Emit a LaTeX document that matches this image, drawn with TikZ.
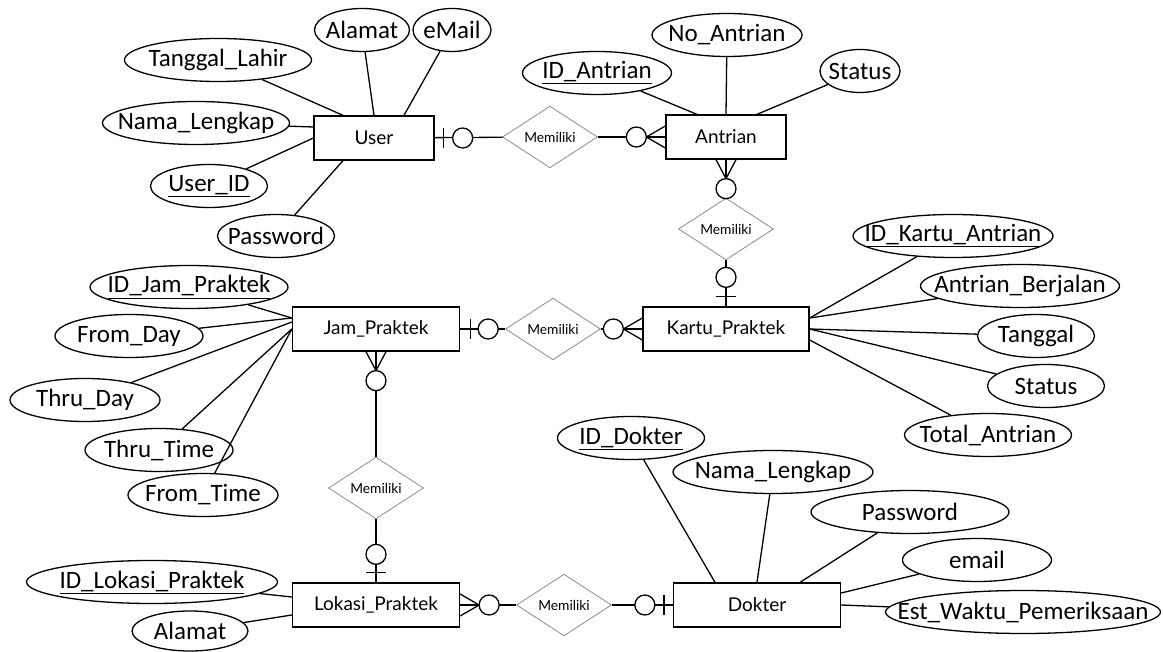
\documentclass[tikz,border=0pt]{standalone}
\usepackage{fontspec}
\setmainfont{Carlito}
\newfontfamily\latofont{Lato}
\usepackage{tikz}
\usetikzlibrary{shapes.geometric}

\begin{document}
\begin{tikzpicture}[x=1pt, y=-1pt,
  ent/.style={draw, line width=1.3pt, minimum height=44pt, inner sep=0pt,
              font=\latofont\fontsize{19}{21}\selectfont},
  attr/.style={draw, ellipse, line width=1.3pt, minimum height=43pt,
               inner xsep=-150pt, inner ysep=-40pt,
               font=\fontsize{25}{27}\selectfont},
  rel/.style={draw=black!45, diamond, line width=0.8pt, minimum width=95pt,
              minimum height=57pt, inner sep=0pt,
              font=\latofont\fontsize{13.8}{16}\selectfont},
  conn/.style={line width=1.3pt},
  ring/.style={line width=1.3pt, fill=white}]
  \useasboundingbox (0,0) rectangle (1163,652);

  % entities
  \node[ent, minimum width=120pt] (user)    at (374,138) {User};
  \node[ent, minimum width=120pt] (antrian) at (726,137) {Antrian};
  \node[ent, minimum width=166pt] (kartu)   at (726,329) {Kartu\_Praktek};
  \node[ent, minimum width=167pt] (jam)     at (376,329) {Jam\_Praktek};
  \node[ent, minimum width=167pt] (lokasi)  at (376,605) {Lokasi\_Praktek};
  \node[ent, minimum width=167pt] (dokter)  at (757,605) {Dokter};

  % relations
  \node[rel] (r1) at (550,137) {Memiliki};
  \node[rel] (r2) at (726,229) {Memiliki};
  \node[rel] (r3) at (553,329) {Memiliki};
  \node[rel] (r4) at (376,488) {Memiliki};
  \node[rel] (r5) at (564,605) {Memiliki};

  % attributes of User
  \node[attr, minimum width=95pt]  (u_alamat) at (362,30)  {Alamat};
  \node[attr, minimum width=78pt]  (u_email)  at (452,30)  {eMail};
  \node[attr, minimum width=187pt] (u_tgl)    at (218,60)  {Tanggal\_Lahir};
  \node[attr, minimum width=187pt] (u_nama)   at (196,123) {Nama\_Lengkap};
  \node[attr, minimum width=117pt] (u_id)     at (209,186) {\underline{User\_ID}};
  \node[attr, minimum width=117pt] (u_pass)   at (276,236) {Password};
  \draw[conn] (u_tgl)    -- ([xshift=-31pt]user.north);
  \draw[conn] (u_alamat) -- (user.north);
  \draw[conn] (u_email)  -- ([xshift=30pt]user.north);
  \draw[conn] (u_nama)   -- ([yshift=11pt]user.west);
  \draw[conn] (u_id)     -- (user.west);
  \draw[conn] (u_pass)   -- ([xshift=-31pt]user.south);

  % attributes of Antrian
  \node[attr, minimum width=149pt] (a_id)     at (597,73) {\underline{ID\_Antrian}};
  \node[attr, minimum width=150pt] (a_no)     at (727,35) {No\_Antrian};
  \node[attr, minimum width=80pt]  (a_status) at (860,71) {Status};
  \draw[conn] (a_id)     -- ([xshift=-29pt]antrian.north);
  \draw[conn] (a_no)     -- (antrian.north);
  \draw[conn] (a_status) -- ([xshift=31pt]antrian.north);

  % attributes of Kartu_Praktek
  \node[attr, minimum width=200pt] (k_id)     at (953,236)  {\underline{ID\_Kartu\_Antrian}};
  \node[attr, minimum width=199pt] (k_jalan)  at (1020,286) {Antrian\_Berjalan};
  \node[attr, minimum width=117pt] (k_tgl)    at (1036,336) {Tanggal};
  \node[attr, minimum width=117pt] (k_status) at (1046,386) {Status};
  \node[attr, minimum width=167pt] (k_total)  at (988,435)  {Total\_Antrian};
  \draw[conn] (k_id)     -- ([yshift=11pt]kartu.east);
  \draw[conn] (k_jalan)  -- ([yshift=11pt]kartu.east);
  \draw[conn] (k_tgl)    -- (kartu.east);
  \draw[conn] (k_status) -- (kartu.east);
  \draw[conn] (k_total)  -- ([yshift=-11pt]kartu.east);

  % attributes of Jam_Praktek
  \node[attr, minimum width=198pt] (j_id)    at (189,287) {\underline{ID\_Jam\_Praktek}};
  \node[attr, minimum width=148pt] (j_fday)  at (129,336) {From\_Day};
  \node[attr, minimum width=150pt] (j_tday)  at (85,400)  {Thru\_Day};
  \node[attr, minimum width=148pt] (j_ttime) at (159,450) {Thru\_Time};
  \node[attr, minimum width=150pt] (j_ftime) at (203,495) {From\_Time};
  \draw[conn] (j_id)    -- ([yshift=11pt]jam.west);
  \draw[conn] (j_fday)  -- ([yshift=11pt]jam.west);
  \draw[conn] (j_tday)  -- ([yshift=7pt]jam.west);
  \draw[conn] (j_ttime) -- (jam.west);
  \draw[conn] (j_ftime) -- (jam.west);

  % attributes of Lokasi_Praktek
  \node[attr, minimum width=251pt] (l_id)     at (152,582) {\underline{ID\_Lokasi\_Praktek}};
  \node[attr, minimum width=116pt, minimum height=40pt] (l_alamat) at (190,631) {Alamat};
  \draw[conn] (l_id)     -- ([yshift=8pt]lokasi.west);
  \draw[conn] (l_alamat) -- ([yshift=-10pt]lokasi.west);

  % attributes of Dokter
  \node[attr, minimum width=147pt] (d_id)    at (631,438)  {\underline{ID\_Dokter}};
  \node[attr, minimum width=200pt] (d_nama)  at (773,472)  {Nama\_Lengkap};
  \node[attr, minimum width=198pt] (d_pass)  at (910,512)  {Password};
  \node[attr, minimum width=149pt] (d_email) at (977,560)  {email};
  \node[attr, minimum width=275pt] (d_est)   at (1023,612) {Est\_Waktu\_Pemeriksaan};
  \draw[conn] (d_id)    -- ([xshift=-42pt]dokter.north);
  \draw[conn] (d_nama)  -- (dokter.north);
  \draw[conn] (d_pass)  -- ([xshift=43pt]dokter.north);
  \draw[conn] (d_email) -- ([yshift=12pt]dokter.east);
  \draw[conn] (d_est)   -- (dokter.east);

  % User -- Antrian
  \draw[conn] (user) -- (r1);
  \draw[conn] (r1) -- (antrian);
  \draw[conn] ([xshift=9pt]user.east) ++(0,-10) -- ++(0,20);
  \draw[ring] ([xshift=28pt]user.east) circle (10pt);
  \draw[conn] ([yshift=11pt]antrian.west) -- ([xshift=-19pt]antrian.west)
              -- ([yshift=-11pt]antrian.west)
              (antrian.west) -- ([xshift=-19pt]antrian.west);
  \draw[ring] ([xshift=-29pt]antrian.west) circle (10pt);

  % Antrian -- Kartu_Praktek
  \draw[conn] (antrian) -- (r2);
  \draw[conn] (r2) -- (kartu);
  \draw[conn] ([xshift=-10pt]antrian.south) -- ([yshift=-19pt]antrian.south)
              -- ([xshift=10pt]antrian.south)
              (antrian.south) -- ([yshift=-19pt]antrian.south);
  \draw[ring] ([yshift=-29pt]antrian.south) circle (10pt);
  \draw[conn] ([yshift=10pt]kartu.north) ++(-10,0) -- ++(20,0);
  \draw[ring] ([yshift=29pt]kartu.north) circle (10pt);

  % Jam_Praktek -- Kartu_Praktek
  \draw[conn] (jam) -- (r3);
  \draw[conn] (r3) -- (kartu);
  \draw[conn] ([xshift=10pt]jam.east) ++(0,-10) -- ++(0,20);
  \draw[ring] ([xshift=28pt]jam.east) circle (10pt);
  \draw[conn] ([yshift=11pt]kartu.west) -- ([xshift=-19pt]kartu.west)
              -- ([yshift=-11pt]kartu.west)
              (kartu.west) -- ([xshift=-19pt]kartu.west);
  \draw[ring] ([xshift=-29pt]kartu.west) circle (10pt);

  % Jam_Praktek -- Lokasi_Praktek
  \draw[conn] (jam) -- (r4);
  \draw[conn] (r4) -- (lokasi);
  \draw[conn] ([xshift=-10pt]jam.south) -- ([yshift=-19pt]jam.south)
              -- ([xshift=10pt]jam.south)
              (jam.south) -- ([yshift=-19pt]jam.south);
  \draw[ring] ([yshift=-29pt]jam.south) circle (10pt);
  \draw[conn] ([yshift=10pt]lokasi.north) ++(-10,0) -- ++(20,0);
  \draw[ring] ([yshift=28pt]lokasi.north) circle (10pt);

  % Lokasi_Praktek -- Dokter
  \draw[conn] (lokasi) -- (r5);
  \draw[conn] (r5) -- (dokter);
  \draw[conn] ([yshift=11pt]lokasi.east) -- ([xshift=19pt]lokasi.east)
              -- ([yshift=-11pt]lokasi.east)
              (lokasi.east) -- ([xshift=19pt]lokasi.east);
  \draw[ring] ([xshift=29pt]lokasi.east) circle (10pt);
  \draw[conn] ([xshift=-9pt]dokter.west) ++(0,-10) -- ++(0,20);
  \draw[ring] ([xshift=-28pt]dokter.west) circle (10pt);
\end{tikzpicture}
\end{document}
